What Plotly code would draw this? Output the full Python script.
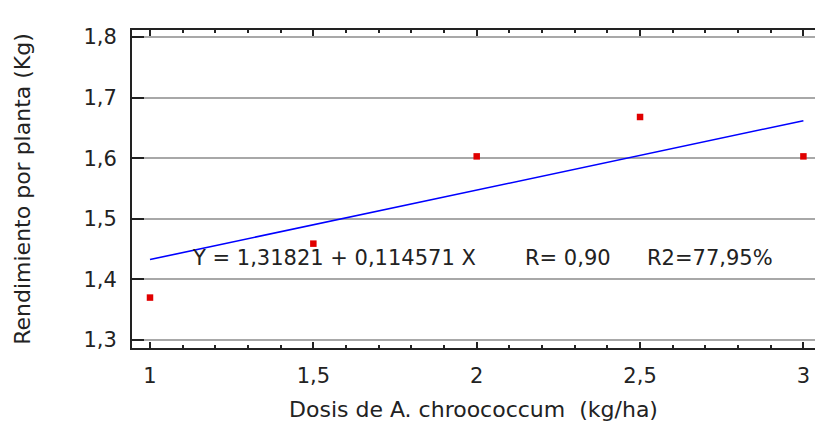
import plotly.graph_objects as go

# Data
dosis = [1.0, 1.5, 2.0, 2.5, 3.0]
rendimiento = [1.37, 1.459, 1.603, 1.668, 1.603]

# Fitted regression shown on the chart
intercepto = 1.31821
pendiente = 0.114571
linea_x = [1.0, 3.0]
linea_y = [intercepto + pendiente * v for v in linea_x]

x_tickvals = [1, 1.5, 2, 2.5, 3]
x_ticktext = ["1", "1,5", "2", "2,5", "3"]
y_tickvals = [1.3, 1.4, 1.5, 1.6, 1.7, 1.8]
y_ticktext = ["1,3", "1,4", "1,5", "1,6", "1,7", "1,8"]

FONT = "DejaVu Sans"
TXT = "#222222"

fig = go.Figure()
fig.add_trace(go.Scatter(x=linea_x, y=linea_y, mode="lines",
                         line=dict(color="#0000ff", width=1.6),
                         hoverinfo="skip", showlegend=False))
fig.add_trace(go.Scatter(x=dosis, y=rendimiento, mode="markers",
                         marker=dict(symbol="square", size=6.5, color="#e00000",
                                     line=dict(width=0)),
                         showlegend=False))

ann_font = dict(family=FONT, size=21, color=TXT)
for xpos, txt in [(1.1224, "Y = 1,31821 + 0,114571 X"),
                  (2.1417, "R= 0,90"),
                  (2.515, "R2=77,95%")]:
    fig.add_annotation(x=xpos, y=1.435, xref="x", yref="y", text=txt,
                       showarrow=False, xanchor="left", yanchor="middle",
                       font=ann_font)

fig.update_layout(
    width=815, height=426,
    margin=dict(l=132, r=0, t=30, b=78),
    paper_bgcolor="white", plot_bgcolor="white",
    font=dict(family=FONT, size=21, color=TXT),
)
fig.update_xaxes(
    range=[0.9449, 3.0355], showgrid=False, zeroline=False,
    tickvals=x_tickvals, ticktext=x_ticktext,
    ticks="inside", ticklen=6, tickwidth=2, tickcolor="#222",
    minor=dict(dtick=0.1, ticks="inside", ticklen=3, tickwidth=2, tickcolor="#222"),
    showline=True, linecolor="#222", linewidth=2, mirror="ticks",
    ticklabelstandoff=8,
    tickfont=dict(family=FONT, size=21, color=TXT),
    title=dict(text="Dosis de A. chroococcum  (kg/ha)", standoff=14,
               font=dict(family=FONT, size=22, color=TXT)),
)
fig.update_yaxes(
    range=[1.2868, 1.81155], showgrid=True, gridcolor="#a8a8a8", gridwidth=1.5,
    zeroline=False, tickvals=y_tickvals, ticktext=y_ticktext,
    ticks="inside", ticklen=12, tickwidth=2, tickcolor="#222",
    showline=True, linecolor="#222", linewidth=2, mirror=False,
    ticklabelstandoff=9,
    tickfont=dict(family=FONT, size=21, color=TXT),
    title=dict(text="Rendimiento por planta (Kg)", standoff=47,
               font=dict(family=FONT, size=22, color=TXT)),
)

fig.write_html("out.html")
